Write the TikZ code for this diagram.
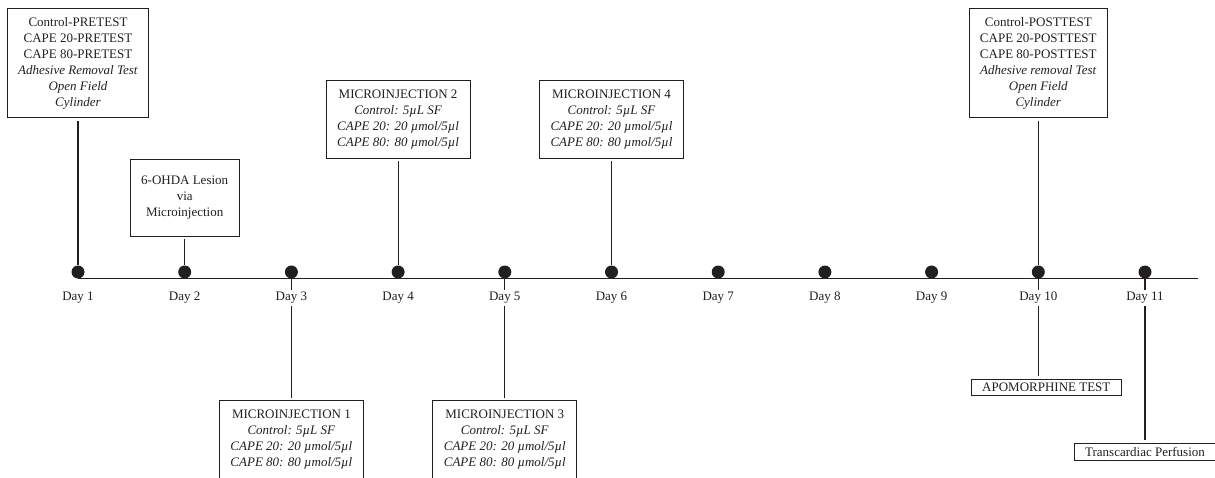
\documentclass[tikz,border=0pt]{standalone}
\usepackage{fontspec}
\setmainfont{Liberation Serif}
\usetikzlibrary{positioning}
\definecolor{ink}{RGB}{35,31,32}
\tikzstyle{line} = [draw=ink, line width=1.1pt]
\tikzstyle{axis} = [draw=ink, line width=1.4pt]
\tikzstyle{box} = [rectangle, draw=ink, line width=0.9pt, text=ink, align=center, inner xsep=11pt, inner ysep=9pt, outer sep=3pt, font=\fontsize{13}{16}\selectfont]
\tikzstyle{onebox} = [box, inner ysep=4pt]
\tikzstyle{dot} = [circle, fill=ink, minimum size=13pt, inner sep=0pt, node distance=106.7pt]
\tikzstyle{day} = [fill=white, text=ink, inner sep=2pt, font=\fontsize{13}{16}\selectfont, node distance=26pt]

\begin{document}
\begin{tikzpicture}
	\useasboundingbox (-78pt,-205pt) rectangle (1137pt,272pt);
	\node [dot] (d1) at (0,0) {};
	\node [dot, right of=d1] (d2) {};
	\node [dot, right of=d2] (d3) {};
	\node [dot, right of=d3] (d4) {};
	\node [dot, right of=d4] (d5) {};
	\node [dot, right of=d5] (d6) {};
	\node [dot, right of=d6] (d7) {};
	\node [dot, right of=d7] (d8) {};
	\node [dot, right of=d8] (d9) {};
	\node [dot, right of=d9] (d10) {};
	\node [dot, right of=d10] (d11) {};
	\coordinate (tend) at ([xshift=53pt]d11.south);
	\node [box, above of=d1, node distance=209pt] (pre) {Control-PRETEST\\CAPE 20-PRETEST\\CAPE 80-PRETEST\\\textit{Adhesive Removal Test}\\\textit{Open Field}\\\textit{Cylinder}};
	\node [box, minimum height=77pt, above of=d2, node distance=74.5pt] (lesion) {6-OHDA Lesion\\via\\Microinjection};
	\node [box, above of=d4, node distance=152.5pt] (mi2) {MICROINJECTION 2\\\textit{Control: 5µL SF}\\\textit{CAPE 20: 20 µmol/5µl}\\\textit{CAPE 80: 80 µmol/5µl}};
	\node [box, above of=d6, node distance=152.5pt] (mi4) {MICROINJECTION 4\\\textit{Control: 5µL SF}\\\textit{CAPE 20: 20 µmol/5µl}\\\textit{CAPE 80: 80 µmol/5µl}};
	\node [box, above of=d10, node distance=209pt] (post) {Control-POSTTEST\\CAPE 20-POSTTEST\\CAPE 80-POSTTEST\\\textit{Adhesive removal Test}\\\textit{Open Field}\\\textit{Cylinder}};
	\node [box, below of=d3, node distance=167.5pt] (mi1) {MICROINJECTION 1\\\textit{Control: 5µL SF}\\\textit{CAPE 20: 20 µmol/5µl}\\\textit{CAPE 80: 80 µmol/5µl}};
	\node [box, below of=d5, node distance=167.5pt] (mi3) {MICROINJECTION 3\\\textit{Control: 5µL SF}\\\textit{CAPE 20: 20 µmol/5µl}\\\textit{CAPE 80: 80 µmol/5µl}};
	\node [onebox, below of=d10, node distance=115.5pt, xshift=8pt] (apo) {APOMORPHINE TEST};
	\node [onebox, below of=d11, node distance=180pt] (perf) {Transcardiac Perfusion};
	\path [axis] (d1.south) -- (tend);
	\path [line] (pre) -- (d1);
	\path [line] (lesion) -- (d2);
	\path [line] (mi2) -- (d4);
	\path [line] (mi4) -- (d6);
	\path [line] (post) -- (d10);
	\path [line] (d3.south) -- (mi1);
	\path [line] (d5.south) -- (mi3);
	\path [line] (d10.south) -- (d10 |- apo.north);
	\path [line] (d11.south) -- (perf);
	\node [day, below of=d1] (l1) {Day 1};
	\node [day, below of=d2] (l2) {Day 2};
	\node [day, below of=d3] (l3) {Day 3};
	\node [day, below of=d4] (l4) {Day 4};
	\node [day, below of=d5] (l5) {Day 5};
	\node [day, below of=d6] (l6) {Day 6};
	\node [day, below of=d7] (l7) {Day 7};
	\node [day, below of=d8] (l8) {Day 8};
	\node [day, below of=d9] (l9) {Day 9};
	\node [day, below of=d10] (l10) {Day 10};
	\node [day, below of=d11] (l11) {Day 11};
\end{tikzpicture}
\end{document}
